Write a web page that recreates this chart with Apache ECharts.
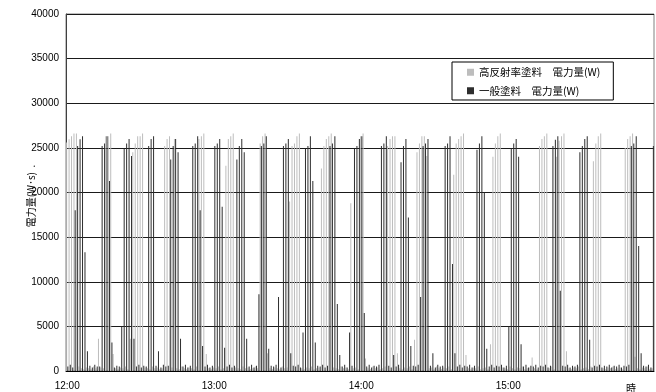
<!DOCTYPE html>
<html>
<head>
<meta charset="utf-8">
<script src="https://cdn.jsdelivr.net/npm/echarts@6/dist/echarts.min.js"></script>
<style>
  html, body { margin: 0; padding: 0; background: #fff; }
  #chart { width: 656px; height: 392px; }
</style>
</head>
<body>
<div id="chart"></div>
<script>
// Per-minute energy (W·s) from 12:00 to 15:59, two coatings.
const startHour = 12;
const minutes = 240;

const seriesNames = ['高反射率塗料　電力量(W)', '一般塗料　電力量(W)'];
const yAxisTitle = '電力量(W･s)  .';
const xAxisUnit = '時';

// 高反射率塗料 (high-reflectance coating)
const highReflect = [
  25600, 25960, 26300, 26600, 26600, 500, 300, 200, 400, 300,
  200, 500, 300, 3600, 400, 300, 26300, 26300, 26600, 1900,
  300, 200, 400, 300, 500, 200, 3600, 24500, 25500, 26300,
  26300, 26600, 400, 300, 200, 500, 300, 400, 200, 300,
  25200, 26000, 26300, 400, 26000, 300, 200, 500, 300, 200,
  400, 300, 200, 500, 26000, 26300, 26600, 1900, 300, 200,
  400, 300, 500, 200, 300, 23000, 26000, 26300, 26600, 400,
  300, 200, 500, 300, 400, 200, 300, 500, 300, 25500,
  26300, 26600, 2000, 300, 200, 400, 300, 200, 500, 300,
  400, 19000, 25200, 25500, 26300, 26600, 300, 200, 400, 300,
  500, 200, 300, 400, 22700, 25200, 26000, 26300, 26600, 400,
  300, 200, 500, 300, 400, 200, 18800, 300, 400, 200,
  26300, 26600, 1400, 300, 200, 500, 300, 400, 200, 300,
  500, 25200, 26000, 26300, 26300, 2000, 300, 200, 400, 300,
  500, 200, 3500, 24500, 25500, 26300, 26300, 24100, 300, 400,
  200, 500, 300, 200, 400, 300, 500, 200, 22000, 25500,
  26000, 26300, 26600, 1800, 300, 200, 400, 300, 500, 200,
  300, 400, 200, 3000, 24000, 25500, 26300, 26600, 400, 300,
  200, 500, 300, 200, 400, 300, 500, 200, 300, 400,
  1500, 300, 200, 25200, 26000, 26300, 26600, 300, 500, 200,
  24000, 25800, 26300, 26600, 2200, 300, 200, 400, 300, 500,
  200, 300, 400, 200, 500, 23500, 25500, 26300, 26600, 300,
  200, 400, 300, 500, 200, 300, 400, 200, 25000, 26000,
  26300, 26600, 1600, 300, 200, 400, 300, 500, 200, 300
];

// 一般塗料 (standard coating)
const standard = [
  500, 700, 400, 18000, 25200, 25960, 26300, 13300, 2200, 600,
  400, 700, 500, 500, 25200, 25500, 26300, 21300, 3200, 400,
  600, 500, 5000, 24900, 25500, 26000, 24100, 3600, 500, 700,
  400, 600, 500, 25200, 26000, 26300, 600, 2200, 400, 700,
  500, 600, 23700, 25200, 26000, 24500, 3600, 500, 700, 400,
  600, 25200, 25500, 26300, 18000, 2800, 500, 700, 400, 600,
  25200, 25500, 26000, 18400, 2600, 500, 700, 400, 600, 23700,
  25200, 26000, 24500, 3600, 500, 700, 400, 600, 8600, 25200,
  25500, 26300, 2500, 600, 500, 700, 8300, 400, 25200, 25500,
  26000, 2000, 600, 500, 700, 400, 4300, 24900, 25200, 26300,
  21300, 3200, 600, 500, 700, 400, 600, 25200, 25500, 26300,
  7500, 1800, 500, 700, 400, 4300, 600, 24900, 25200, 26000,
  26300, 6500, 500, 700, 400, 600, 500, 700, 25200, 25500,
  26300, 600, 400, 1800, 500, 700, 23400, 25200, 26000, 17200,
  2800, 600, 500, 700, 8300, 25200, 25500, 26000, 600, 2000,
  400, 700, 500, 600, 25200, 25500, 26300, 12000, 2000, 500,
  700, 400, 600, 500, 700, 400, 600, 24800, 25500, 26300,
  20000, 2500, 500, 700, 400, 600, 500, 700, 400, 600,
  5000, 24900, 25500, 26000, 24000, 3000, 500, 700, 400, 600,
  500, 700, 400, 600, 500, 700, 400, 600, 25200, 25900,
  26300, 9000, 600, 500, 700, 400, 600, 500, 700, 24500,
  25200, 26000, 26300, 3500, 400, 600, 500, 700, 400, 600,
  500, 700, 400, 600, 500, 700, 400, 600, 500, 700,
  25200, 25500, 26300, 14000, 2000, 600, 500, 700, 400, 25200
];

const timeLabels = [];
for (let i = 0; i < minutes; i++) {
  const h = startHour + Math.floor(i / 60);
  const m = i % 60;
  timeLabels.push(h + ':' + (m < 10 ? '0' + m : m));
}

const yTicks = { min: 0, max: 40000, step: 5000 };

const fontLatin = "'Liberation Sans', Arial, 'Noto Sans CJK JP', sans-serif";
const fontJa = "'Noto Sans CJK JP', 'Liberation Sans', sans-serif";

const chart = echarts.init(document.getElementById('chart'), null, { renderer: 'canvas' });

chart.setOption({
  animation: false,
  backgroundColor: '#ffffff',
  grid: { left: 66, right: 2, top: 14, bottom: 21, show: true, borderColor: '#808080', borderWidth: 1 },
  legend: {
    orient: 'vertical',
    left: 452,
    top: 62,
    padding: [5, 13, 4, 15],
    itemGap: 8,
    itemWidth: 7,
    itemHeight: 7,
    icon: 'rect',
    backgroundColor: '#ffffff',
    borderColor: '#000000',
    borderWidth: 1,
    borderRadius: 0,
    textStyle: { fontFamily: fontJa, fontSize: 10.5, color: '#000' },
    data: seriesNames
  },
  xAxis: {
    type: 'category',
    data: timeLabels,
    boundaryGap: true,
    axisLine: { show: true, lineStyle: { color: '#000', width: 1 } },
    axisTick: { show: false },
    axisLabel: { interval: 59, fontFamily: fontLatin, fontSize: 10, color: '#000', margin: 10 },
    splitLine: { show: false }
  },
  yAxis: {
    type: 'value',
    min: yTicks.min,
    max: yTicks.max,
    interval: yTicks.step,
    axisLine: { show: true, lineStyle: { color: '#404040', width: 1 } },
    axisTick: { show: false },
    axisLabel: {
      fontFamily: fontLatin, fontSize: 10, color: '#000', margin: 7,
      formatter: function (v) { return String(v); }
    },
    splitLine: { show: true, lineStyle: { color: '#1a1a1a', width: 1 } }
  },
  series: [
    {
      name: seriesNames[0],
      type: 'bar',
      data: highReflect,
      barWidth: 1,
      barGap: '20%',
      itemStyle: { color: '#bdbdbd' }
    },
    {
      name: seriesNames[1],
      type: 'bar',
      data: standard,
      barWidth: 1,
      itemStyle: { color: '#2e2e2e' }
    }
  ],
  graphic: [
    {
      type: 'text',
      x: 31,
      y: 196,
      rotation: Math.PI / 2,
      style: {
        text: yAxisTitle, fontFamily: fontJa, fontSize: 10, fill: '#000',
        align: 'center', verticalAlign: 'middle'
      }
    },
    {
      type: 'text',
      left: 626,
      top: 383,
      style: { text: xAxisUnit, fontFamily: fontJa, fontSize: 10, fill: '#000' }
    }
  ]
});
</script>
</body>
</html>
